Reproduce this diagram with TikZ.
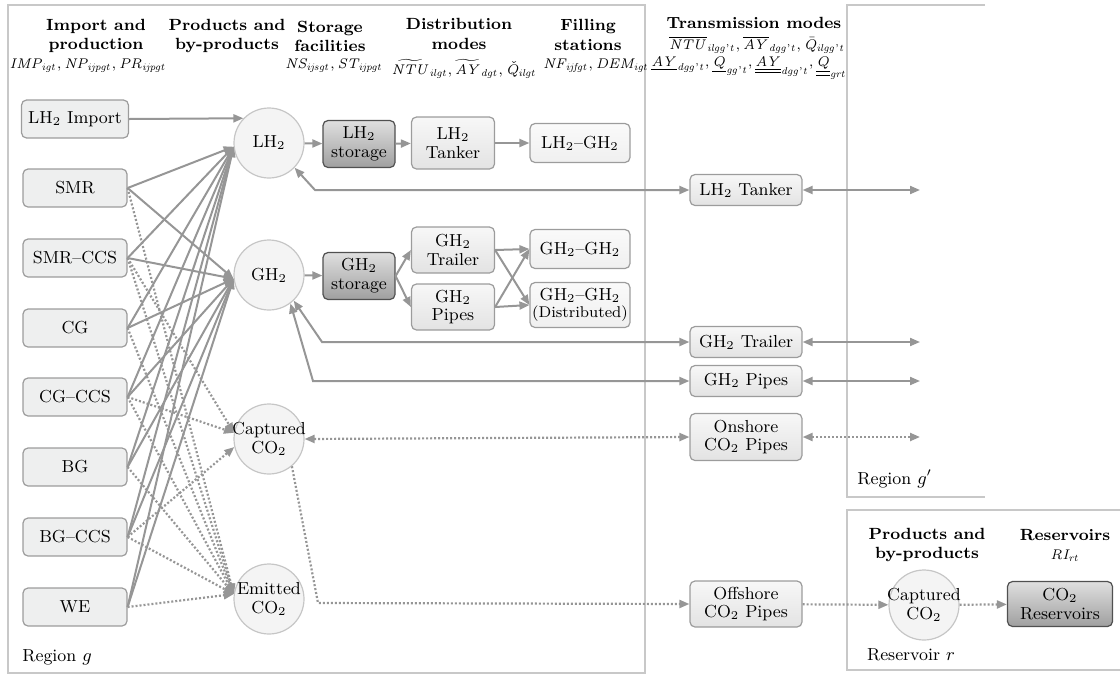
\documentclass[tikz,border=0pt]{standalone}
\usepackage{amsmath}
\usetikzlibrary{arrows.meta}
\definecolor{linegray}{HTML}{969696}
\definecolor{framegray}{HTML}{C8C8C8}
\definecolor{boxline}{HTML}{9C9C9C}
\definecolor{techfill}{HTML}{EEEFEF}
\definecolor{circfill}{HTML}{F4F4F4}
\definecolor{circline}{HTML}{C6C6C6}
\definecolor{darkline}{HTML}{505050}
\newcommand{\ndfont}{\fontsize{8.7}{9.4}\selectfont}
\newcommand{\hdfont}{\fontsize{8.1}{9.6}\selectfont\bfseries}
\newcommand{\ap}{\text{'}}
\tikzset{
  frame/.style={draw=framegray,line width=0.6pt},
  head/.style={font=\hdfont,align=center,inner sep=0pt},
  var/.style={font=\fontsize{7.4}{9}\selectfont,inner sep=0pt},
  tvar/.style={font=\fontsize{7.1}{9}\selectfont,inner sep=0pt},
  txt/.style={font=\ndfont,inner sep=0pt,anchor=west},
  techbox/.style={draw=boxline,fill=techfill,rounded corners=2.5pt,line width=0.6pt,
    minimum width=52pt,minimum height=19pt,font=\ndfont},
  prodcirc/.style={circle,draw=circline,fill=circfill,line width=0.6pt,minimum size=35pt,
    inner sep=-2.5pt,align=center,font=\ndfont},
  storebox/.style={draw=darkline,rounded corners=2.5pt,line width=0.6pt,top color=gray!25,
    bottom color=gray!75,minimum width=36pt,minimum height=23.5pt,inner sep=1pt,
    align=center,font=\ndfont},
  modebox/.style={draw=boxline,rounded corners=2.5pt,line width=0.6pt,top color=gray!6,
    bottom color=gray!22,minimum width=41.5pt,minimum height=23pt,inner sep=1pt,
    align=center,font=\ndfont},
  stationbox/.style={modebox,top color=gray!4,bottom color=gray!12,minimum width=50pt,
    minimum height=19.5pt},
  transbox/.style={modebox,minimum width=56pt,minimum height=15.5pt},
  flow/.style={draw=linegray,line width=1pt,-{Triangle[length=5pt,width=4pt]}},
  biflow/.style={flow,{Triangle[length=5pt,width=4pt]}-{Triangle[length=5pt,width=4pt]}},
  co2/.style={flow,line width=1.1pt,dash pattern=on 1pt off 1pt},
  bico2/.style={biflow,line width=1.1pt,dash pattern=on 1pt off 1pt}
}
\begin{document}
\begin{tikzpicture}[x=0.5pt,y=-0.5pt]
\useasboundingbox (0,0) rectangle (1120,676);
%regions
\draw[frame] (8,5) rectangle (645,673);
\draw[frame] (985,5) -- (847,5) -- (847,497) -- (985,497);
\draw[frame] (1120,510) -- (847,510) -- (847,670) -- (1120,670);
\node[txt] (rg) at (22,657) {Region $g$};
\node[txt] (rg2) at (857,479) {Region $g'$};
\node[font=\ndfont,inner sep=0pt] (rr) at (911,655) {Reservoir $r$};
%headers
\node[head] (h1) at (96,36) {Import and\\production};
\node[var] (v1) at (88,66) {$\mathit{IMP_{igt}, NP_{ijpgt}, PR_{ijpgt}}$};
\node[head] (h2) at (227,36) {Products and\\by-products};
\node[head] (h3) at (330,36) {Storage\\facilities};
\node[var] (v3) at (334,66) {$\mathit{NS_{ijsgt}, ST_{ijpgt}}$};
\node[head] (h4) at (459,34) {Distribution\\modes};
\node[var] (v4) at (464,69) {$\mathit{\widetilde{NTU}_{ilgt}, \widetilde{AY}_{dgt}, \check{Q}_{ilgt}}$};
\node[head] (h5) at (588,35) {Filling\\stations};
\node[var] (v5) at (596,66) {$\mathit{NF_{ijfgt}, DEM_{igt}}$};
\node[head] (h6) at (754,23) {Transmission modes};
\node[tvar] (v6) at (757,45) {$\mathit{\overline{NTU}_{ilgg\ap t}, \overline{AY}_{dgg\ap t}, \bar{Q}_{ilgg\ap t}}$};
\node[tvar] (v7) at (749,68) {$\mathit{\underline{AY}_{dgg\ap t}, \underline{Q}_{gg\ap t}, \underline{\underline{AY}}_{dgg\ap t}, \underline{\underline{Q}}_{grt}}$};
\node[head] (h7) at (927,545) {Products and\\by-products};
\node[head] (h8) at (1065,535) {Reservoirs};
\node[var] (v8) at (1065,556) {$\mathit{RI_{rt}}$};
%import and production
\node[techbox] (imp) at (75,119) {LH$_2$ Import};
\foreach \n/\t/\y in {smr/SMR/188,smrccs/SMR--CCS/258,cg/CG/328,cgccs/CG--CCS/397,
  bg/BG/467,bgccs/BG--CCS/537,we/WE/607}
  \node[techbox] (\n) at (75,\y) {\t};
%products
\node[prodcirc] (lh2) at (269,143) {LH$_2$};
\node[prodcirc] (gh2) at (269,275) {GH$_2$};
\node[prodcirc] (cap) at (269,439) {Captured\\CO$_2$};
\node[prodcirc] (emi) at (269,599) {Emitted\\CO$_2$};
%storage, distribution, stations
\node[storebox] (lsto) at (359,144) {LH$_2$\\storage};
\node[storebox] (gsto) at (359,276) {GH$_2$\\storage};
\node[modebox,minimum height=26pt] (ltank) at (453,143) {LH$_2$\\Tanker};
\node[modebox] (gtrail) at (453,250) {GH$_2$\\Trailer};
\node[modebox] (gpipe) at (453,307) {GH$_2$\\Pipes};
\node[stationbox] (lfill) at (580,143) {LH$_2$--GH$_2$};
\node[stationbox] (gfill) at (580,249) {GH$_2$--GH$_2$};
\node[stationbox,minimum height=22.5pt] (gdist) at (580,305)
  {GH$_2$--GH$_2$\\[-1pt]{\fontsize{7.8}{8.5}\selectfont(Distributed)}};
%transmission
\node[transbox] (tlh) at (746,190) {LH$_2$ Tanker};
\node[transbox] (tgtr) at (746,342) {GH$_2$ Trailer};
\node[transbox] (tgpi) at (746,381) {GH$_2$ Pipes};
\node[transbox,minimum height=23.5pt] (ton) at (746,437) {Onshore\\CO$_2$ Pipes};
\node[transbox,minimum height=23pt] (toff) at (746,604) {Offshore\\CO$_2$ Pipes};
%reservoir
\node[prodcirc] (rcap) at (924,605) {Captured\\CO$_2$};
\node[storebox,minimum width=52.5pt,minimum height=22.5pt] (rres) at (1060,604) {CO$_2$\\Reservoirs};
\path (920,190) coordinate (elh) (920,342) coordinate (egtr) (920,381) coordinate (egpi)
  (920,437) coordinate (eon) (318,603) coordinate (koff);
%connectors
\draw[flow] (imp.east) -- (lh2.136);
\foreach \n in {smr,smrccs,cg,cgccs,bg,bgccs,we}{
  \draw[flow] (\n.east) -- (lh2.186);
  \draw[flow] (\n.east) -- (gh2.186);
  \draw[co2] (\n.east) -- (emi.172);
}
\foreach \n/\a in {smrccs/170,cgccs/170,bgccs/193}
  \draw[co2] (\n.east) -- (cap.\a);
\draw[flow] (lh2) -- (lsto);
\draw[flow] (lsto) -- (ltank);
\draw[flow] (ltank) -- (lfill);
\draw[flow] (gh2) -- (gsto);
\draw[flow] (gsto.east) -- (gtrail.west);
\draw[flow] (gsto.east) -- (gpipe.west);
\foreach \p in {gtrail,gpipe}
  \foreach \q in {gfill,gdist}
    \draw[flow] (\p.east) -- (\q.west);
\draw[biflow] (lh2.-44) -- (315,190) -- (tlh.west);
\draw[biflow] (gh2.-46) -- (322,342) -- (tgtr.west);
\draw[biflow] (gh2.-53) -- (313,381) -- (tgpi.west);
\draw[bico2] (cap.east) -- (ton.west);
\foreach \p/\q in {tlh/elh,tgtr/egtr,tgpi/egpi}
  \draw[biflow] (\p.east) -- (\q);
\draw[bico2] (ton.east) -- (eon);
\draw[co2] (cap.-50) -- (koff) -- (toff.west);
\draw[co2] (toff) -- (rcap);
\draw[co2] (rcap) -- (rres);
\end{tikzpicture}
\end{document}
